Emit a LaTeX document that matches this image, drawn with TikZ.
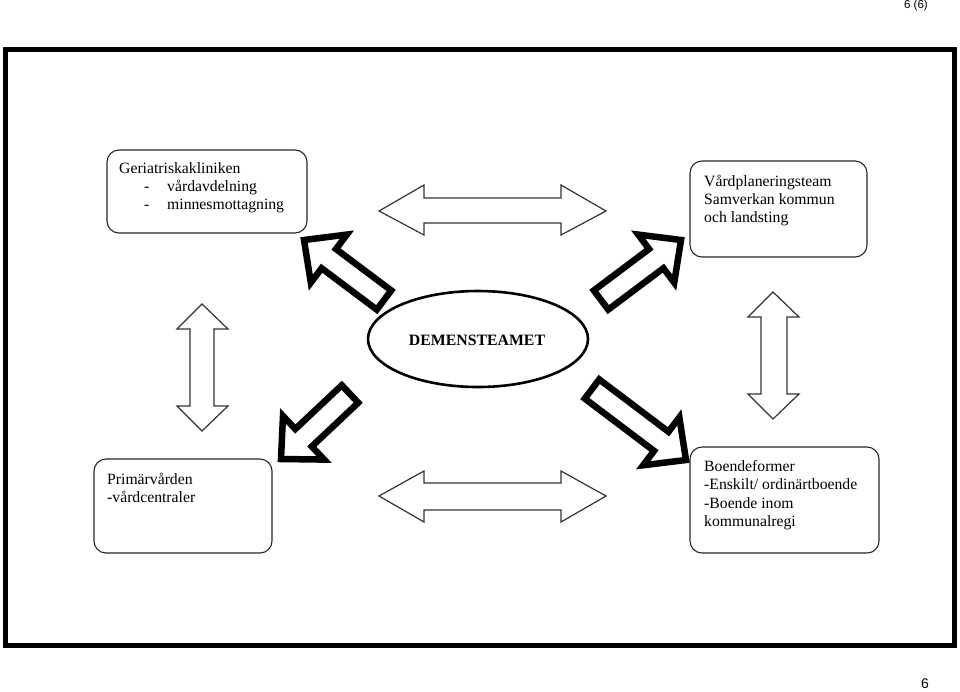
\documentclass[tikz,border=0pt]{standalone}
\usepackage{fontspec}
\setmainfont{Liberation Serif}
\newfontfamily\arialfont{Liberation Sans}
\usetikzlibrary{calc}
\tikzset{
  box/.style={draw=black!85, line width=1.1pt, rounded corners=12pt},
  thinarrow/.style={draw=black!80, line width=1.2pt, line join=miter, fill=white},
  fatarrow/.style={draw=black, line width=6.5pt, line join=miter, miter limit=10, fill=white},
  txt/.style={anchor=base west, inner sep=0pt, font=\fontsize{15.7}{18}\selectfont},
}
\newcommand\fatarr[3]{% name, tail, tip
  \coordinate (#1T) at #2;
  \coordinate (#1P) at #3;
  \coordinate (#1B) at ($(#1P)!31pt!(#1T)$);
  \draw[fatarrow] (#1P) -- ($(#1B)!30pt!90:(#1P)$) -- ($(#1B)!12pt!90:(#1P)$)
     -- ($(#1T)!12pt!90:(#1P)$) -- ($(#1T)!12pt!-90:(#1P)$)
     -- ($(#1B)!12pt!-90:(#1P)$) -- ($(#1B)!30pt!-90:(#1P)$) -- cycle;
}
\begin{document}
\begin{tikzpicture}[x=1pt,y=-1pt]
\useasboundingbox (0,0) rectangle (960,691);
% page texts
\node[anchor=east, inner sep=0pt, font=\arialfont\fontsize{11.5}{13}\selectfont] (pagetop) at (928,6) {6 (6)};
\node[anchor=east, inner sep=0pt, font=\arialfont\fontsize{14}{16}\selectfont] (pagebot) at (929,684) {6};
% frame
\draw[line width=5pt] (5,49) rectangle (954,645);
% boxes
\draw[box] (107,150) rectangle (307,233);
\draw[box] (690,161) rectangle (867,257);
\draw[box] (94,459) rectangle (272,553);
\draw[box] (690,447) rectangle (879,553);
% box texts (baselines)
\node[txt] (g1) at (119,173) {Geriatriskakliniken};
\node[txt] (g2a) at (144,191) {-};
\node[txt] (g2) at (167,191) {vårdavdelning};
\node[txt] (g3a) at (144,209) {-};
\node[txt] (g3) at (167,209) {minnesmottagning};
\node[txt] (v1) at (704,186) {Vårdplaneringsteam};
\node[txt] (v2) at (704,204) {Samverkan kommun};
\node[txt] (v3) at (704,222) {och landsting};
\node[txt] (p1) at (107,484) {Primärvården};
\node[txt] (p2) at (107,502) {-vårdcentraler};
\node[txt] (b1) at (704,471) {Boendeformer};
\node[txt] (b2) at (704,489) {-Enskilt/ ordinärtboende};
\node[txt] (b3) at (704,508) {-Boende inom};
\node[txt] (b4) at (704,526) {kommunalregi};
% ellipse
\draw[line width=2.6pt] (478,339) ellipse [x radius=110, y radius=48];
\node[inner sep=0pt, anchor=base, font=\bfseries\fontsize{15.8}{18}\selectfont] (dem) at (477,345) {DEMENSTEAMET};
% horizontal double arrows
\draw[thinarrow] (379,211) -- (424,185) -- (424,198) -- (561,198) -- (561,185) -- (606,211)
  -- (561,235) -- (561,223) -- (424,223) -- (424,235) -- cycle;
\draw[thinarrow] (379,496) -- (424,471) -- (424,483) -- (561,483) -- (561,471) -- (606,496)
  -- (561,522) -- (561,510) -- (424,510) -- (424,522) -- cycle;
% vertical double arrows
\draw[thinarrow] (202,304) -- (228,329) -- (214,329) -- (214,406) -- (228,406) -- (202,431)
  -- (177,406) -- (190,406) -- (190,329) -- (177,329) -- cycle;
\draw[thinarrow] (773,292) -- (799,317) -- (787,317) -- (787,394) -- (799,394) -- (773,419)
  -- (748,394) -- (761,394) -- (761,317) -- (748,317) -- cycle;
% fat arrows
\fatarr{ul}{(384,300)}{(304,240)}
\fatarr{ur}{(601,300)}{(681,240)}
\fatarr{ll}{(350,394)}{(281,459)}
\fatarr{lr}{(592,389)}{(686,460)}
\end{tikzpicture}
\end{document}
